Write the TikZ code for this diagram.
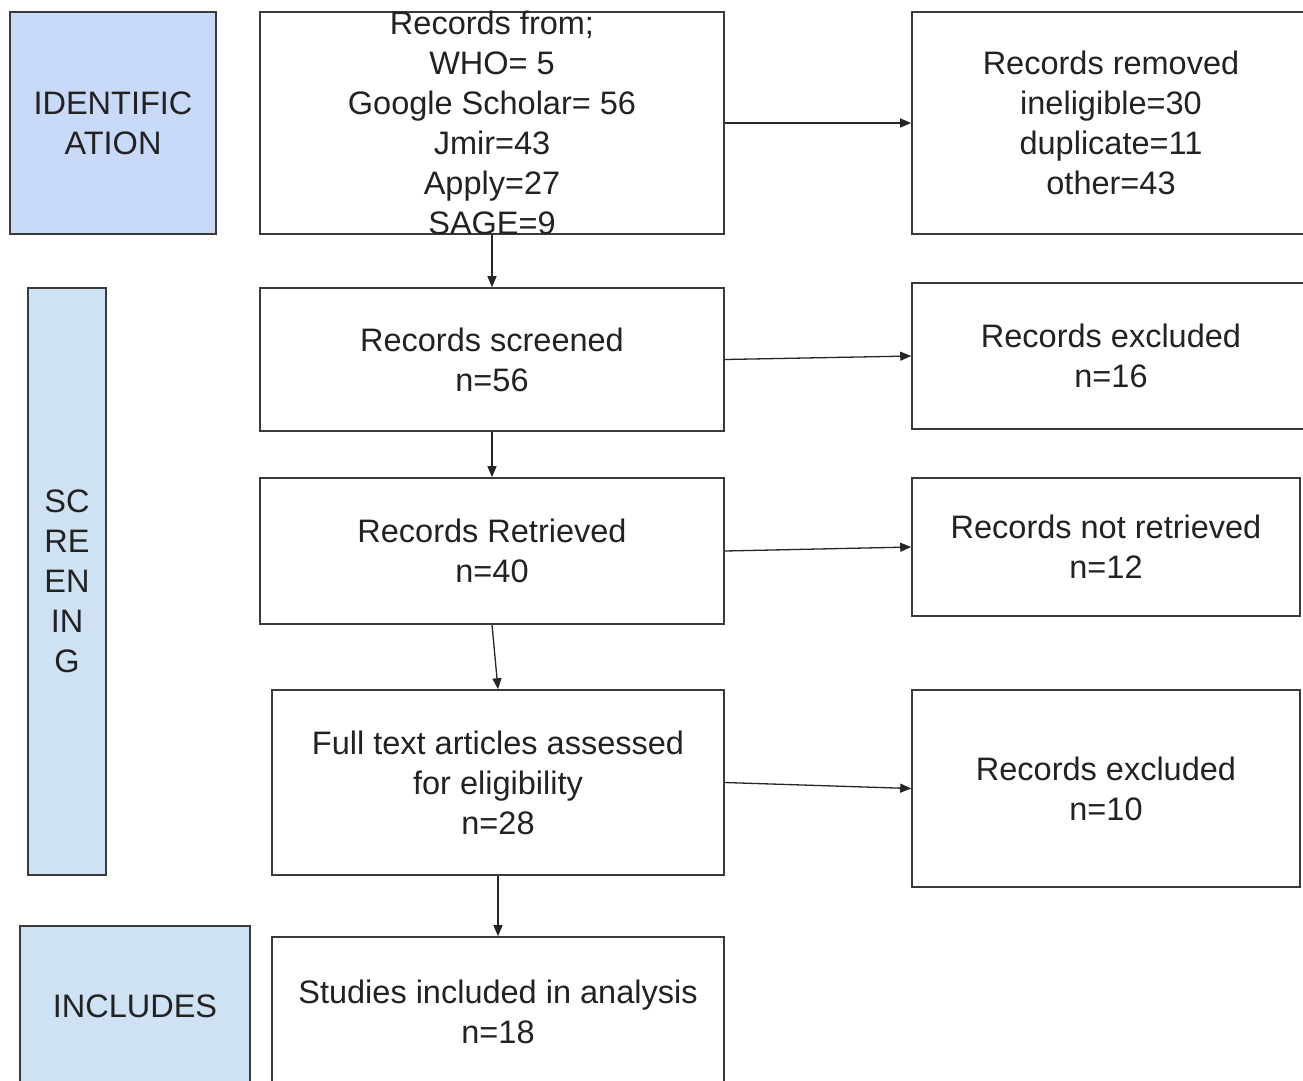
\documentclass[tikz,border=0pt]{standalone}
\usepackage{fontspec}
\setmainfont{Liberation Sans}
\usetikzlibrary{arrows.meta}
\definecolor{idfill}{HTML}{C9DAF8}
\definecolor{scfill}{HTML}{CFE2F3}
\definecolor{edge}{HTML}{3A3A3A}
\definecolor{txt}{HTML}{222222}
\begin{document}
\begin{tikzpicture}[x=1pt,y=-1pt,
  box/.style={draw=edge, line width=1.6pt, rectangle, inner sep=0pt, align=center, text=txt, font=\fontsize{32.5}{40}\selectfont},
  phase/.style={box, fill=scfill},
  plain/.style={inner sep=0pt, align=center, text=txt, font=\fontsize{32.5}{40}\selectfont},
  arr/.style={draw=black!85, line width=1.3pt, -{Triangle[length=11pt,width=9pt]}}]
\useasboundingbox (0,0) rectangle (1303,1080);
\clip (0,0) rectangle (1303,1080);
% phase labels
\node[phase, fill=idfill, minimum width=206pt, minimum height=222pt] (ident) at (113,123) {IDENTIFIC\\ATION};
\node[phase, minimum width=78pt, minimum height=587pt] (screen) at (67,581.5) {SC\\RE\\EN\\IN\\G};
\node[phase, minimum width=230pt, minimum height=160pt] (incl) at (135,1006) {INCLUDES};
% main column
\node[box, minimum width=464pt, minimum height=222pt] (src) at (492,123) {};
\node[plain] (srctext) at (492,123) {Records from;\\WHO= 5\\Google Scholar= 56\\Jmir=43\\Apply=27\\SAGE=9};
\node[box, minimum width=464pt, minimum height=143pt] (scr) at (492,359.5) {Records screened\\n=56};
\node[box, minimum width=464pt, minimum height=146pt] (ret) at (492,551) {Records Retrieved\\n=40};
\node[box, minimum width=452pt, minimum height=185pt] (full) at (498,782.5) {Full text articles assessed\\for eligibility\\n=28};
\node[box, minimum width=452pt, minimum height=149pt] (stud) at (498,1011.5) {Studies included in analysis\\n=18};
% right column
\node[box, minimum width=398pt, minimum height=222pt] (rem) at (1111,123) {Records removed\\ineligible=30\\duplicate=11\\other=43};
\node[box, minimum width=398pt, minimum height=146pt] (exc) at (1111,356) {Records excluded\\n=16};
\node[box, minimum width=388pt, minimum height=138pt] (nret) at (1106,547) {Records not retrieved\\n=12};
\node[box, minimum width=388pt, minimum height=197pt] (exc2) at (1106,788.5) {Records excluded\\n=10};
% connectors
\draw[arr] (src.east) -- (rem.west);
\draw[arr] (src.south) -- (scr.north);
\draw[arr] (scr.east) -- (exc.west);
\draw[arr] (scr.south) -- (ret.north);
\draw[arr] (ret.east) -- (nret.west);
\draw[arr] (ret.south) -- (full.north);
\draw[arr] (full.east) -- (exc2.west);
\draw[arr] (full.south) -- (stud.north);
\end{tikzpicture}
\end{document}
